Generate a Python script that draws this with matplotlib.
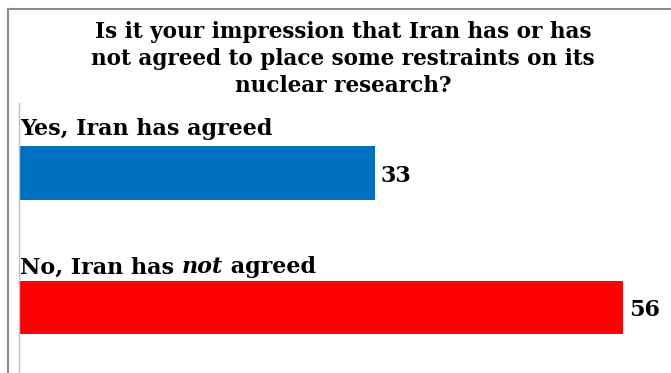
import matplotlib.pyplot as plt
from matplotlib.lines import Line2D

# survey answers, percent
answers = ["Yes, Iran has agreed", "No, Iran has not agreed"]
shares = [33, 56]
bar_colors = ["#0070C0", "#FF0000"]
question = ("Is it your impression that Iran has or has\n"
            "not agreed to place some restraints on its\n"
            "nuclear research?")

W, H = 671, 373
fig = plt.figure(figsize=(W / 100, H / 100), dpi=100)
plt.rcParams["font.family"] = "DejaVu Serif"

# grey frame around the chart area (top and left only)
fig.add_artist(Line2D([8 / W, 1], [1 - 9 / H, 1 - 9 / H], color="#8C8C8C", lw=1.5))
fig.add_artist(Line2D([8 / W, 8 / W], [0, 1 - 9 / H], color="#8C8C8C", lw=1.5))

fig.text(343 / W, 1 - 59 / H, question, ha="center", va="center",
         fontsize=15.5, fontweight="bold", linespacing=1.32)

ax = fig.add_axes([19 / W, 0, (W - 19) / W, 1 - 103 / H])
ypos = [0, 1]
ax.barh(ypos, shares, height=0.40, color=bar_colors, edgecolor="none")
ax.set_xlim(0, 60.5)
ax.set_ylim(1.487, -0.52)

for sp in ["top", "right", "bottom"]:
    ax.spines[sp].set_visible(False)
ax.spines["left"].set_color("#BFBFBF")
ax.spines["left"].set_linewidth(1)
ax.set_xticks([])
ax.set_yticks([])

lab_kw = dict(fontsize=16, fontweight="bold", va="bottom", ha="left")

# first answer label
ax.text(0.1, ypos[0] - 0.245, answers[0], **lab_kw)

# second answer label, with "not" set in italics
head, tail = answers[1].split("not")
t1 = ax.text(0.1, ypos[1] - 0.217, head, **lab_kw)
t2 = ax.annotate("not", xy=(1, 0), xycoords=t1, fontstyle="italic", **lab_kw)
ax.annotate(tail, xy=(1, 0), xycoords=t2, **lab_kw)

for y, v in zip(ypos, shares):
    ax.annotate(str(v), xy=(v, y), xytext=(4.5, -2), textcoords="offset points",
                ha="left", va="center", fontsize=16, fontweight="bold")

fig.savefig("out.png", dpi=100)
